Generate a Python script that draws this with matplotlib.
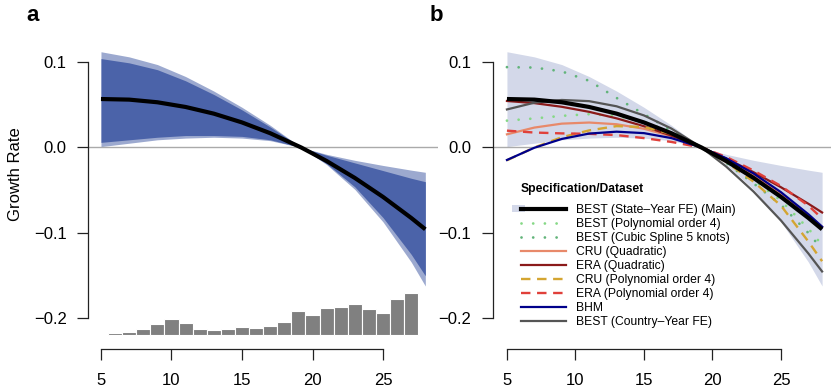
import numpy as np
import matplotlib.pyplot as plt
from matplotlib.lines import Line2D
from matplotlib.patches import Rectangle
from matplotlib.legend_handler import HandlerBase

plt.rcParams['font.family'] = ['Liberation Sans', 'DejaVu Sans']

temp = [5, 7, 9, 11, 13, 15, 17, 19.2, 21, 23, 25, 27, 28]

# main estimate, BEST (State-Year FE)
best_main = [0.0567, 0.0560, 0.0529, 0.0474, 0.0396, 0.0293, 0.0167, 0.0,
             -0.0158, -0.0356, -0.0578, -0.0824, -0.0957]
# bootstrap spread (outer edges and dense core)
boot_hi = [0.112, 0.106, 0.097, 0.083, 0.066, 0.047, 0.026, 0.0,
           -0.008, -0.0150, -0.0210, -0.0265, -0.0290]
boot_lo = [0.001, 0.005, 0.009, 0.011, 0.012, 0.011, 0.008, 0.0,
           -0.020, -0.049, -0.087, -0.134, -0.162]
core_hi = [0.104, 0.099, 0.091, 0.078, 0.062, 0.044, 0.024, 0.0,
           -0.009, -0.018, -0.027, -0.036, -0.040]
core_lo = [0.006, 0.009, 0.012, 0.014, 0.014, 0.013, 0.009, 0.0,
           -0.019, -0.046, -0.082, -0.125, -0.150]

# alternative specifications / datasets
best_poly4 = [0.0314, 0.034, 0.037, 0.039, 0.037, 0.030, 0.018, 0.0,
              -0.017, -0.038, -0.062, -0.095, -0.114]
best_spline = [0.094, 0.0935, 0.089, 0.078, 0.058, 0.039, 0.020, 0.0,
               -0.018, -0.042, -0.067, -0.100, -0.119]
cru_quad = [0.0154, 0.0233, 0.0279, 0.0292, 0.0272, 0.0219, 0.0133, 0.0,
            -0.0138, -0.0323, -0.0541, -0.0792, -0.0929]
era_quad = [0.0544, 0.0519, 0.0476, 0.0417, 0.0341, 0.0249, 0.0139, 0.0,
            -0.0129, -0.0289, -0.0465, -0.0658, -0.0760]
cru_poly4 = [-0.015, 0.000, 0.012, 0.020, 0.025, 0.024, 0.016, 0.0,
             -0.017, -0.040, -0.068, -0.110, -0.133]
era_poly4 = [0.0197, 0.0175, 0.0165, 0.016, 0.0145, 0.011, 0.0065, 0.0,
             -0.011, -0.027, -0.045, -0.068, -0.083]
bhm = [-0.0146, -0.0003, 0.0100, 0.0163, 0.0185, 0.0168, 0.0110, 0.0,
       -0.0126, -0.0304, -0.0523, -0.0781, -0.0926]
best_country = [0.0445, 0.0524, 0.0556, 0.0542, 0.0482, 0.0375, 0.0222, 0.0,
                -0.0223, -0.0516, -0.0854, -0.1240, -0.1450]

# temperature distribution (relative frequency per 1 degree bin)
hist_temp = list(range(6, 28))
hist_freq = [2, 3, 6, 11, 16, 12, 6, 5, 6, 8, 7, 9, 13, 24, 20, 27, 28, 31, 26, 22, 36, 42]
hist_base = -0.2195
hist_scale = 1 / 855

blue = '#4B63A9'
band = '#D3D8E9'


class BandLineHandler(HandlerBase):
    def create_artists(self, legend, orig_handle, xdescent, ydescent,
                       width, height, fontsize, trans):
        patch, line = orig_handle
        r = Rectangle((-xdescent - 0.2 * width, -ydescent + 0.1 * height),
                      0.3 * width, 0.8 * height, facecolor=patch.get_facecolor(),
                      edgecolor='none', transform=trans)
        ln = Line2D([-xdescent, -xdescent + width], [height / 2 - ydescent] * 2,
                    color=line.get_color(), lw=line.get_linewidth(), transform=trans)
        return [r, ln]


def style(ax, xlim):
    ax.set_xlim(*xlim)
    ax.set_ylim(-0.2357, 0.1257)
    for s in ['top', 'right']:
        ax.spines[s].set_visible(False)
    for s in ['left', 'bottom']:
        ax.spines[s].set_linewidth(0.9)
        ax.spines[s].set_color('#222222')
    ax.spines['left'].set_bounds(-0.2, 0.1)
    ax.spines['bottom'].set_bounds(5, 25)
    ax.set_xticks([5, 10, 15, 20, 25])
    ax.set_yticks([-0.2, -0.1, 0.0, 0.1])
    ax.set_yticklabels(['\u22120.2', '\u22120.1', '0.0', '0.1'])
    ax.tick_params(length=8, width=0.9, color='#222222', labelsize=12)
    ax.tick_params(axis='x', pad=9.5)
    ax.tick_params(axis='y', pad=7.4)
    ax.patch.set_alpha(0)


fig = plt.figure(figsize=(8.31, 3.89), dpi=100)
axa = fig.add_axes([0.1059, 0.1028, 0.4212, 0.7943])
axb = fig.add_axes([0.5929, 0.1028, 0.4071, 0.7943])

# ---- panel a
style(axa, (4.08, 28.9))
axa.fill_between(temp, boot_lo, boot_hi, color=blue, alpha=0.55, lw=0)
axa.fill_between(temp, core_lo, core_hi, color=blue, lw=0)
axa.axhline(0, color='#AAAAAA', lw=1)
axa.plot(temp, best_main, color='black', lw=3, solid_capstyle='butt')
axa.bar(hist_temp, np.array(hist_freq) * hist_scale, width=1, bottom=hist_base,
        color='#808080', edgecolor='white', lw=0.8)
fig.text(16 / 831, 1 - 174 / 389, 'Growth Rate', rotation=90, fontsize=12,
         ha='center', va='center')

# ---- panel b
style(axb, (3.96, 28.65))
band_patch = axb.fill_between(temp, boot_lo, boot_hi, color=band, lw=0)
axb.axhline(0, color='#AAAAAA', lw=1)
dot = (0, (0.01, 4.2))
l_poly = axb.plot(temp, best_poly4, color='#86D886', lw=2, ls=dot, dash_capstyle='round')[0]
l_spl = axb.plot(temp, best_spline, color='#62B47A', lw=2, ls=dot, dash_capstyle='round')[0]
l_cruq = axb.plot(temp, cru_quad, color='#E8896A', lw=1.6)[0]
l_eraq = axb.plot(temp, era_quad, color='#8B1A1A', lw=1.6)[0]
l_crup = axb.plot(temp, cru_poly4, color='#D4A531', lw=1.7, ls=(0, (4, 2.8)))[0]
l_erap = axb.plot(temp, era_poly4, color='#E0403A', lw=1.7, ls=(0, (4, 2.8)))[0]
l_bhm = axb.plot(temp, bhm, color='#00008B', lw=1.6)[0]
l_cty = axb.plot(temp, best_country, color='#555555', lw=1.6)[0]
l_main = axb.plot(temp, best_main, color='black', lw=3, solid_capstyle='butt')[0]

handles = [(band_patch, l_main), l_poly, l_spl, l_cruq, l_eraq, l_crup, l_erap, l_bhm, l_cty]
labels = ['BEST (State\u2013Year FE) (Main)', 'BEST (Polynomial order 4)',
          'BEST (Cubic Spline 5 knots)', 'CRU (Quadratic)', 'ERA (Quadratic)',
          'CRU (Polynomial order 4)', 'ERA (Polynomial order 4)', 'BHM',
          'BEST (Country\u2013Year FE)']
fig.text(520.7 / 831, 1 - 189 / 389, 'Specification/Dataset', fontsize=8.7,
         fontweight='bold', va='center', ha='left')
leg = axb.legend(handles, labels, handler_map={handles[0]: BandLineHandler()},
                 frameon=False, fontsize=8.7,
                 handlelength=3.73, handletextpad=0.88, labelspacing=0.17,
                 borderpad=0, borderaxespad=0, loc='upper left',
                 bbox_to_anchor=(520.7 / 831, 1 - 204 / 389),
                 bbox_transform=fig.transFigure)

fig.text(26 / 831, 1 - 21 / 389, 'a', fontsize=16, fontweight='bold')
fig.text(430 / 831, 1 - 21 / 389, 'b', fontsize=16, fontweight='bold')

fig.savefig('out.png', dpi=100)
